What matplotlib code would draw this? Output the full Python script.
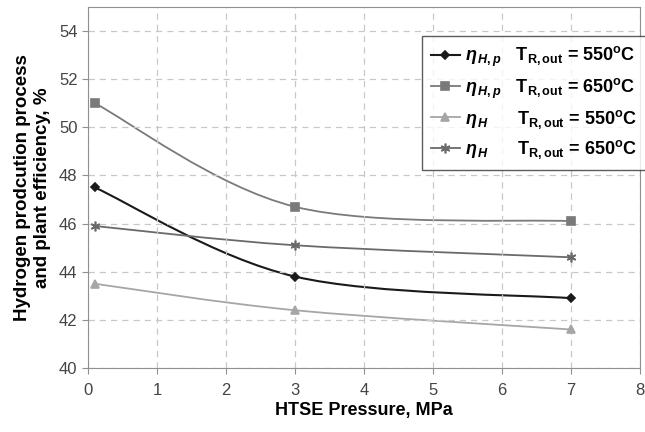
import matplotlib
matplotlib.use("Agg")
import matplotlib.pyplot as plt
from matplotlib.path import Path
from matplotlib.patches import PathPatch
from matplotlib.lines import Line2D

plt.rcParams['font.family'] = ['Liberation Sans', 'DejaVu Sans']
plt.rcParams['mathtext.fontset'] = 'custom'
plt.rcParams['mathtext.rm'] = 'Liberation Sans:bold'
plt.rcParams['mathtext.it'] = 'Liberation Sans:italic:bold'
plt.rcParams['mathtext.bf'] = 'Liberation Sans:bold'

# data
pressure = [0.1, 3, 7]
eta_hp_550 = [47.5, 43.8, 42.9]
eta_hp_650 = [51.0, 46.7, 46.1]
eta_h_550 = [43.5, 42.4, 41.6]
eta_h_650 = [45.9, 45.1, 44.6]

labels = [
    r"$\mathit{\eta}_{\,\mathit{H,p}}$   T$_{\mathrm{R,out}}$ = 550$^{\mathrm{o}}$C",
    r"$\mathit{\eta}_{\,\mathit{H,p}}$   T$_{\mathrm{R,out}}$ = 650$^{\mathrm{o}}$C",
    r"$\mathit{\eta}_{\,\mathit{H}}$      T$_{\mathrm{R,out}}$ = 550$^{\mathrm{o}}$C",
    r"$\mathit{\eta}_{\,\mathit{H}}$      T$_{\mathrm{R,out}}$ = 650$^{\mathrm{o}}$C",
]


# excel style smoothed line through the points (bezier segments)
def smooth_path(x, y):
    pts = list(zip(x, y))
    n = len(pts)
    verts = [pts[0]]
    codes = [Path.MOVETO]
    for i in range(n - 1):
        p0 = pts[max(i - 1, 0)]
        p1 = pts[i]
        p2 = pts[i + 1]
        p3 = pts[min(i + 2, n - 1)]
        c1 = (p1[0] + (p2[0] - p0[0]) / 6, p1[1] + (p2[1] - p0[1]) / 6)
        c2 = (p2[0] - (p3[0] - p1[0]) / 6, p2[1] - (p3[1] - p1[1]) / 6)
        verts += [c1, c2, p2]
        codes += [Path.CURVE4] * 3
    return Path(verts, codes)


fig = plt.figure(figsize=(6.45, 4.32), dpi=100)
ax = fig.add_axes([88 / 645, 64 / 432, 552 / 645, 361 / 432])

series = [
    (eta_hp_550, '#1a1a1a', 'D', 4, 1.5),
    (eta_hp_650, '#7a7a7a', 's', 6, 1.3),
    (eta_h_550, '#a6a6a6', '^', 6, 1.3),
    (eta_h_650, '#6a6a6a', (6, 2, 0), 7, 1.3),
]

handles = []
for (vals, col, mk, ms, lw), lab in zip(series, labels):
    ax.add_patch(PathPatch(smooth_path(pressure, vals), facecolor='none',
                           edgecolor=col, lw=lw))
    ax.plot(pressure, vals, ls='none', marker=mk, ms=ms, color=col,
            mec=col, mew=1.2)
    handles.append(Line2D([], [], color=col, lw=lw, marker=mk, ms=ms,
                          mec=col, mew=1.2))

ax.set_xlim(0, 8)
ax.set_ylim(40, 55)
ax.set_xticks(range(0, 9))
ax.set_yticks(range(40, 55, 2))
ax.grid(True, ls=(0, (5, 4)), color='#c8c8c8', lw=0.9)
for s in ax.spines.values():
    s.set_color('#909090')
ax.tick_params(colors='#444444', labelsize=12, length=4, direction='out')
ax.tick_params(axis='both', color='#909090')
ax.tick_params(axis='x', pad=7)

ax.set_xlabel('HTSE Pressure, MPa', fontsize=13, fontweight='bold', labelpad=3)
ax.set_ylabel('Hydrogen prodcution process\nand plant efficiency, %',
              fontsize=13.5, fontweight='bold', labelpad=6)

leg = fig.legend(handles, labels, loc='upper left',
                 bbox_to_anchor=(422 / 645, 1 - 36 / 432),
                 fontsize=13, frameon=True, fancybox=False,
                 borderaxespad=0, handlelength=1.6, handletextpad=0.3,
                 labelspacing=0.4, borderpad=0.5)
leg.get_frame().set_edgecolor('#333333')
leg.get_frame().set_linewidth(1.0)
for t in leg.get_texts():
    t.set_fontweight('bold')

fig.savefig('out.png', dpi=100)
